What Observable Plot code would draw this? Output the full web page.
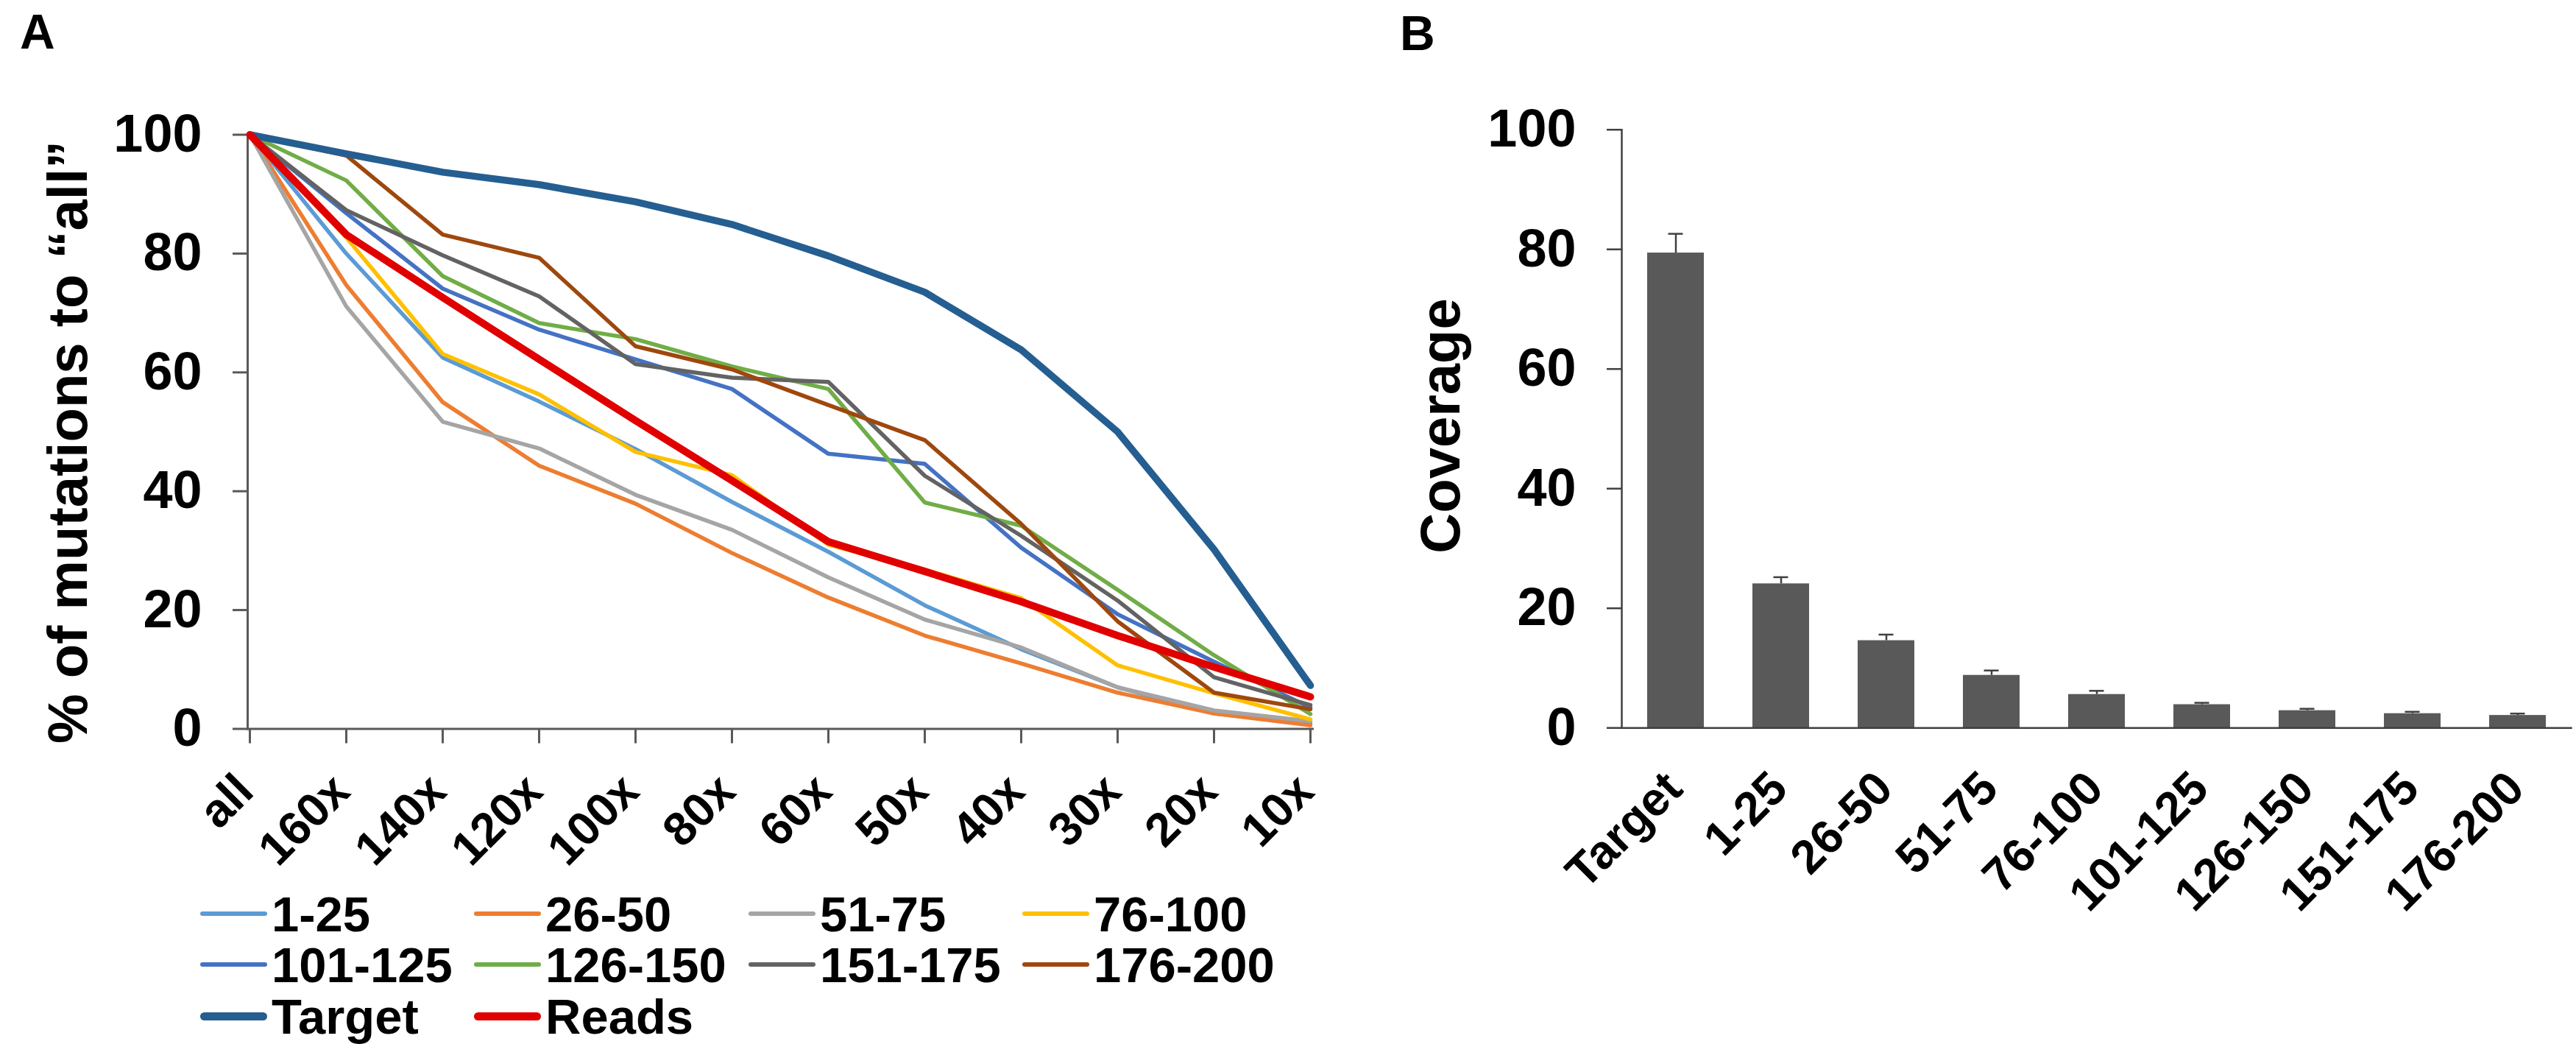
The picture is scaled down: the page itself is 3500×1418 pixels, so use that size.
<!DOCTYPE html>
<html>
<head>
<meta charset="utf-8">
<script src="https://cdn.jsdelivr.net/npm/d3@7"></script>
<script src="https://cdn.jsdelivr.net/npm/@observablehq/plot@0.6"></script>
<style>
html, body { margin: 0; padding: 0; background: #fff; }
#root { position: relative; width: 3500px; height: 1418px; overflow: hidden; background: #fff;
  font-family: "Liberation Sans", Arial, Helvetica, sans-serif; font-weight: bold; color: #000; }
#root svg { position: absolute; top: 0; overflow: visible; }
.lbl { position: absolute; white-space: nowrap; line-height: 1; }
.sw { position: absolute; }
</style>
</head>
<body>
<div id="root"></div>
<script>
// ---------- Panel A data ----------
const depthLabels = ["all", "160x", "140x", "120x", "100x", "80x", "60x", "50x", "40x", "30x", "20x", "10x"];
const seriesNames = ["1-25", "26-50", "51-75", "76-100", "101-125", "126-150", "151-175", "176-200", "Target", "Reads"];
const seriesColors = ["#5B9BD5", "#ED7D31", "#A5A5A5", "#FFC000", "#4472C4", "#70AD47", "#636363", "#9E480E", "#255E91", "#E00000"];

const pos1_25    = [100, 80.0, 62.5, 55.1, 47.1, 38.2, 29.8, 20.8, 13.4, 7.0, 2.6, 0.9];
const pos26_50   = [100, 74.7, 55.0, 44.3, 37.9, 29.6, 22.1, 15.7, 11.0, 6.1, 2.6, 0.6];
const pos51_75   = [100, 71.1, 51.7, 47.2, 39.4, 33.5, 25.5, 18.4, 13.7, 7.0, 3.1, 1.3];
const pos76_100  = [100, 82.7, 63.1, 56.3, 46.6, 42.7, 31.0, 26.8, 22.0, 10.7, 6.0, 1.6];
const pos101_125 = [100, 86.8, 74.1, 67.2, 62.2, 57.2, 46.3, 44.6, 30.5, 19.3, 11.3, 3.6];
const pos126_150 = [100, 92.3, 76.2, 68.3, 65.6, 61.0, 57.2, 38.1, 34.2, 23.4, 12.4, 2.5];
const pos151_175 = [100, 87.3, 79.7, 72.8, 61.4, 59.1, 58.4, 42.6, 32.5, 21.6, 8.7, 4.0];
const pos176_200 = [100, 96.5, 83.2, 79.3, 64.4, 60.5, 54.5, 48.6, 34.5, 18.1, 6.1, 3.3];
const target     = [100, 96.8, 93.7, 91.6, 88.7, 84.9, 79.6, 73.5, 63.8, 50.0, 30.2, 7.3];
const reads      = [100, 83.2, 72.6, 62.2, 51.9, 41.8, 31.5, 26.5, 21.4, 15.7, 10.4, 5.4];

const seriesValues = [pos1_25, pos26_50, pos51_75, pos76_100, pos101_125, pos126_150, pos151_175, pos176_200, target, reads];
const yTicks = [0, 20, 40, 60, 80, 100];
const yLabelA = "% of mutations to \u201Call\u201D";

// ---------- Panel B data ----------
const regions = ["Target", "1-25", "26-50", "51-75", "76-100", "101-125", "126-150", "151-175", "176-200"];
const coverage = [79.4, 24.1, 14.6, 8.8, 5.6, 3.9, 2.9, 2.4, 2.1];
const coverageErr = [3.2, 1.1, 1.0, 0.8, 0.6, 0.3, 0.3, 0.3, 0.3];
const yLabelB = "Coverage";

// ---------- Build tables ----------
const tableA = [];
seriesNames.forEach((s, si) => {
  seriesValues[si].forEach((v, di) => tableA.push({series: s, depth: depthLabels[di], value: v}));
});
const thinA = tableA.filter(d => d.series !== "Target" && d.series !== "Reads");
const targetA = tableA.filter(d => d.series === "Target");
const readsA = tableA.filter(d => d.series === "Reads");
const tableB = regions.map((r, i) => ({region: r, mean: coverage[i], err: coverageErr[i]}));

const FONT = '"Liberation Sans", Arial, Helvetica, sans-serif';
const AXIS_A = "#595959";
const AXIS_B = "#404040";
const root = document.getElementById("root");

// ---------- Panel A ----------
const plotA = Plot.plot({
  width: 1850,
  height: 1418,
  marginLeft: 336,
  marginRight: 67,
  marginTop: 182.5,
  marginBottom: 428.5,
  style: {fontFamily: FONT, fontWeight: "bold", background: "transparent", overflow: "visible", color: "#000"},
  x: {type: "point", domain: depthLabels, padding: 0},
  y: {domain: [0, 100]},
  color: {domain: seriesNames, range: seriesColors},
  marks: [
    Plot.frame({anchor: "left", stroke: AXIS_A, strokeWidth: 3}),
    Plot.frame({anchor: "bottom", stroke: AXIS_A, strokeWidth: 3}),
    Plot.axisY({ticks: yTicks, tickSize: 20, tickPadding: 42, fontSize: 72, stroke: AXIS_A, strokeWidth: 3, color: "#000", label: null}),
    Plot.axisX({tickSize: 20, stroke: AXIS_A, strokeWidth: 3, color: "none", label: null}),
    Plot.axisX({tickSize: 0, tickPadding: 0, tickRotate: -45, textAnchor: "end", lineAnchor: "bottom", dx: 8, dy: 88, fontSize: 64, color: "#000", label: null}),
    Plot.line(thinA, {x: "depth", y: "value", z: "series", stroke: "series", strokeWidth: 5.5, strokeLinejoin: "round", strokeLinecap: "round"}),
    Plot.line(targetA, {x: "depth", y: "value", stroke: "series", strokeWidth: 9.5, strokeLinejoin: "round", strokeLinecap: "round"}),
    Plot.line(readsA, {x: "depth", y: "value", stroke: "series", strokeWidth: 10, strokeLinejoin: "round", strokeLinecap: "round"}),
    Plot.text([yLabelA], {frameAnchor: "left", rotate: -90, textAnchor: "middle", lineAnchor: "bottom", dx: -219, dy: 14, fontSize: 76, fontWeight: "bold", fill: "#000"})
  ]
});
plotA.style.left = "0px";
root.appendChild(plotA);

// ---------- Panel B ----------
const plotB = Plot.plot({
  width: 1700,
  height: 1418,
  marginLeft: 403,
  marginRight: 7,
  marginTop: 175.7,
  marginBottom: 429.8,
  style: {fontFamily: FONT, fontWeight: "bold", background: "transparent", overflow: "visible", color: "#000"},
  x: {type: "band", domain: regions, paddingInner: 0.463, paddingOuter: 0.2315},
  y: {domain: [0, 100]},
  marks: [
    Plot.barY(tableB, {x: "region", y: "mean", fill: "#595959"}),
    Plot.ruleX(tableB, {x: "region", y1: "mean", y2: d => d.mean + d.err, stroke: AXIS_B, strokeWidth: 2.5}),
    Plot.tickY(tableB, {x: "region", y: d => d.mean + d.err, stroke: AXIS_B, strokeWidth: 2.5, insetLeft: 28.5, insetRight: 28.5}),
    Plot.frame({anchor: "left", stroke: AXIS_B, strokeWidth: 2.5}),
    Plot.frame({anchor: "bottom", stroke: AXIS_B, strokeWidth: 2.5}),
    Plot.axisY({ticks: yTicks, tickSize: 20, tickPadding: 42, fontSize: 72, stroke: AXIS_B, strokeWidth: 2.5, color: "#000", label: null}),
    Plot.axisX({tickSize: 0, tickPadding: 0, tickRotate: -45, textAnchor: "end", lineAnchor: "bottom", dx: 12, dy: 86, fontSize: 64, color: "#000", label: null}),
    Plot.text([yLabelB], {frameAnchor: "left", rotate: -90, textAnchor: "middle", lineAnchor: "bottom", dx: -221, dy: -4, fontSize: 76, fontWeight: "bold", fill: "#000"})
  ]
});
plotB.style.left = "1800px";
root.appendChild(plotB);

// ---------- Panel letters ----------
function addLabel(text, left, top, size) {
  const d = document.createElement("div");
  d.className = "lbl";
  d.textContent = text;
  d.style.left = left + "px";
  d.style.top = top + "px";
  d.style.fontSize = size + "px";
  root.appendChild(d);
  return d;
}
addLabel("A", 27, 10, 66);
addLabel("B", 1902, 12, 66);

// ---------- Legend for panel A ----------
const legendColX = [272, 644, 1017, 1389];
const legendRowY = [1240.5, 1310, 1380];
seriesNames.forEach((name, i) => {
  const col = i % 4, row = Math.floor(i / 4);
  const thick = (name === "Target" || name === "Reads");
  const h = thick ? 11 : 6;
  const sw = document.createElement("div");
  sw.className = "sw";
  sw.style.left = legendColX[col] + "px";
  sw.style.top = (legendRowY[row] - h / 2) + "px";
  sw.style.width = "91px";
  sw.style.height = h + "px";
  sw.style.borderRadius = (h / 2) + "px";
  sw.style.background = seriesColors[i];
  root.appendChild(sw);
  addLabel(name, legendColX[col] + 97, legendRowY[row] - 32.7, 67);
});
</script>
</body>
</html>
